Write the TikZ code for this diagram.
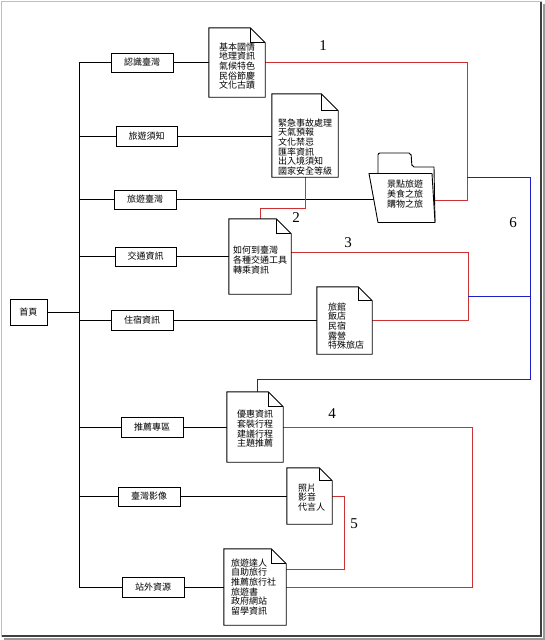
\documentclass[tikz,border=0pt]{standalone}
\usepackage{fontspec}
\setmainfont{Liberation Serif}
\newfontfamily\cjk{Noto Sans CJK TC}
\usetikzlibrary{calc}
\definecolor{lnred}{RGB}{205,50,50}
\definecolor{lnblue}{RGB}{30,30,200}
\newcommand\docfold[2]{%
  \draw[line width=0.9pt, fill=white] (#1.north west) -- ($(#1.north east)+(-#2,0)$) -- ($(#1.north east)+(0,#2)$) -- (#1.south east) -- (#1.south west) -- cycle;
  \draw[line width=0.9pt] ($(#1.north east)+(-#2,0)$) -- ($(#1.north east)+(-#2,#2)$) -- ($(#1.north east)+(0,#2)$);}
\begin{document}
\begin{tikzpicture}[x=1pt,y=-1pt,
  lvbox/.style={draw, line width=0.9pt, inner sep=0pt, font=\cjk\fontsize{9}{9.7}\selectfont},
  docbox/.style={inner sep=0pt},
  doctext/.style={inner sep=0pt, align=left, font=\cjk\fontsize{9}{9.7}\selectfont},
  ctrtext/.style={inner sep=0pt, align=center, font=\cjk\fontsize{9}{9.7}\selectfont},
  blk/.style={line width=0.9pt},
  redln/.style={lnred, line width=0.9pt},
  blueln/.style={lnblue, line width=1pt},
  numlab/.style={inner sep=0pt, font=\fontsize{15}{15}\selectfont}]
\useasboundingbox (0,0) rectangle (545,640);
\fill[white] (0,0) rectangle (545,640);
% frame
\draw[black!25, line width=1pt] (1,1) rectangle (541,636);
\draw[black!40, line width=2pt] (544,4) -- (544,639) -- (4,639);
\draw[black!75, line width=1.2pt] (541,2) -- (541,636) -- (2,636);

% home and level-1 boxes
\node[lvbox, minimum width=37, minimum height=26] (home) at (28.5,312) {首頁};
\node[lvbox, minimum width=62, minimum height=19] (b1) at (142,62.5) {認識臺灣};
\node[lvbox, minimum width=61, minimum height=20] (b2) at (146.5,136) {旅遊須知};
\node[lvbox, minimum width=62, minimum height=19] (b3) at (145,199.5) {旅遊臺灣};
\node[lvbox, minimum width=61, minimum height=19] (b4) at (145.5,256.5) {交通資訊};
\node[lvbox, minimum width=62, minimum height=20] (b5) at (142,320) {住宿資訊};
\node[lvbox, minimum width=62, minimum height=20] (b6) at (152,427) {推薦專區};
\node[lvbox, minimum width=62, minimum height=19] (b7) at (149,496.5) {臺灣影像};
\node[lvbox, minimum width=62, minimum height=20] (b8) at (153,587) {站外資源};

% documents
\node[docbox, minimum width=56, minimum height=69] (d1) at (237,62.5) {};
\node[docbox, minimum width=66, minimum height=83] (d2) at (305,135.5) {};
\node[docbox, minimum width=62, minimum height=75] (d3) at (260,256.5) {};
\node[docbox, minimum width=55, minimum height=67] (d5) at (344.5,320.5) {};
\node[docbox, minimum width=56, minimum height=70] (d6) at (255,427) {};
\node[docbox, minimum width=45, minimum height=56] (d7) at (309.5,496) {};
\node[docbox, minimum width=62, minimum height=76] (d8) at (255,587) {};
\node[docbox, minimum width=66, minimum height=49] (fold) at (402,198.5) {};

% trunk
\coordinate (tt) at (79,62.5);
\coordinate (tb) at (79,587);
\draw[blk] (tt) -- (tb);
\draw[blk] (home.east) -- (home.east -| tt);
\foreach \b in {b1,b2,b3,b4,b5,b6,b7,b8} \draw[blk] (\b.west -| tt) -- (\b.west);

% level-1 to documents
\draw[blk] (b1.east) -- (b1.east -| d1.west);
\draw[blk] (b2.east) -- (b2.east -| d2.west);
\draw[blk] (b3.east) -- ($(b3.east -| fold.west)+(5,0)$);
\draw[blk] (b4.east) -- (b4.east -| d3.west);
\draw[blk] (b5.east) -- (b5.east -| d5.west);
\draw[blk] (b6.east) -- (b6.east -| d6.west);
\draw[blk] (b7.east) -- (b7.east -| d7.west);
\draw[blk] (b8.east) -- (b8.east -| d8.west);

% red connectors
\coordinate (r1a) at (467,62.5);
\coordinate (r1b) at (467,200);
\draw[redln] (d1.east) -- (r1a) -- (r1b) -- (r1b -| fold.east);
\coordinate (r2a) at (260,208);
\draw[redln] (d3.north) -- (r2a) -- (r2a -| d2.south) -- (d2.south);
\coordinate (r3a) at (468,252);
\draw[redln] ($(d3.east)+(0,-4.5)$) -- (r3a) -- (r3a |- d5.east) -- (d5.east);
\coordinate (r4a) at (472,427);
\draw[redln] (d6.east) -- (r4a) -- (r4a |- d8.east) -- (d8.east);
\coordinate (r5a) at (344,496);
\coordinate (r5b) at (344,569);
\draw[redln] (d7.east) -- (r5a) -- (r5b) -- (r5b -| d8.east);

% blue connectors
\coordinate (j1) at (467,177);
\coordinate (bl1) at (530,177);
\coordinate (bl2) at (530,379);
\coordinate (j3) at (468,296);
\draw[blueln] (j1) -- (bl1) -- (bl2) -- ($(bl2 -| d6.north)+(2,0)$) -- ($(d6.north)+(2,0)$);
\draw[blueln] (j3) -- (j3 -| bl1);

% document outlines
\docfold{d1}{15}
\docfold{d2}{17}
\docfold{d3}{15}
\docfold{d5}{14}
\docfold{d6}{15}
\docfold{d7}{13}
\docfold{d8}{15}

% folder
\draw[line width=0.9pt, fill=white, rounded corners=2pt] (378,174) -- (378,153) -- (411,153) -- (412,167) [sharp corners] -- (434,167) -- (435,222);
\draw[line width=0.9pt, fill=white] (369,173.5) -- (432,173.5) -- (435,222.5) -- (378,222.5) -- cycle;

% texts
\node[ctrtext] (t1) at (237,66) {基本國情\\地理資訊\\氣候特色\\民俗節慶\\文化古蹟};
\node[doctext] (t2) at (305,147) {緊急事故處理\\天氣預報\\文化禁忌\\匯率資訊\\出入境須知\\國家安全等級};
\node[ctrtext] (tf) at (405,194) {景點旅遊\\美食之旅\\購物之旅};
\node[doctext] (t3) at (260,260) {如何到臺灣\\各種交通工具\\轉乘資訊};
\node[doctext] (t5) at (346,326) {旅館\\飯店\\民宿\\露營\\特殊旅店};
\node[ctrtext] (t6) at (255,429) {優惠資訊\\套裝行程\\建議行程\\主題推薦};
\node[doctext] (t7) at (311.5,497.5) {照片\\影音\\代言人};
\node[doctext] (t8) at (253.5,587) {旅遊達人\\自助旅行\\推薦旅行社\\旅遊書\\政府網站\\留學資訊};

% number labels
\node[numlab] (n1) at (323,46) {1};
\node[numlab] (n2) at (296,218) {2};
\node[numlab] (n3) at (348,243) {3};
\node[numlab] (n4) at (332,414) {4};
\node[numlab] (n5) at (354,524) {5};
\node[numlab] (n6) at (513,223) {6};
\end{tikzpicture}
\end{document}
